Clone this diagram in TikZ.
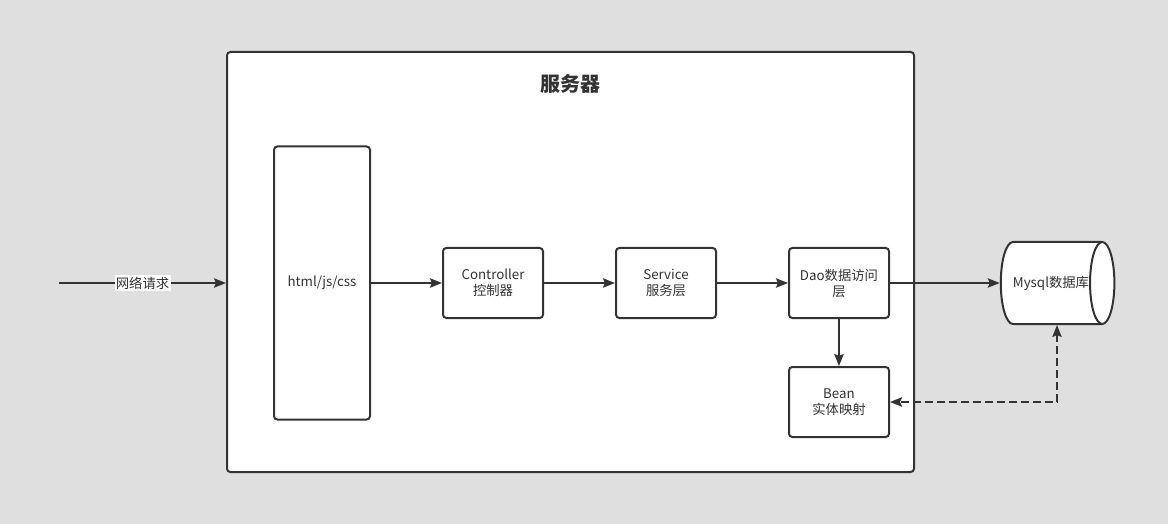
\documentclass[tikz,border=0pt]{standalone}
\usepackage{fontspec}
\setmainfont{Noto Sans CJK SC}
\usepackage{tikz}
\usetikzlibrary{shapes.geometric, arrows.meta, positioning}

\definecolor{bggray}{HTML}{DFDFDF}
\definecolor{ink}{HTML}{333333}

\begin{document}
\begin{tikzpicture}[
    x=0.75pt, y=-0.75pt,
    every node/.style={font=\fontsize{10}{12}\selectfont, text=ink, align=center},
    box/.style={draw=ink, line width=1.5pt, fill=white, rounded corners=2.5pt,
                minimum width=75pt, minimum height=52.5pt, inner sep=2pt},
    arr/.style={draw=ink, line width=1.5pt, -{Stealth[length=9pt,width=7pt,inset=1.5pt]}},
    dasharr/.style={draw=ink, line width=1.5pt, dash pattern=on 6pt off 3pt,
                {Stealth[length=9pt,width=7pt,inset=1.5pt]}-{Stealth[length=9pt,width=7pt,inset=1.5pt]}}
]

% Background
\fill[bggray] (0,0) rectangle (1168,524);
\useasboundingbox (0,0) rectangle (1168,524);

% Server frame
\node[box, minimum width=515.25pt, minimum height=315pt] (srv) at (570.5,262) {};
\node[font=\fontsize{15}{18}\selectfont\bfseries] (title) at (570,84) {服务器};

% Front end column
\node[box, minimum width=72pt, minimum height=204.75pt] (html) at (322,283) {html/js/css};

% Layers
\node[box] (ctrl) at (493,283) {Controller\\控制器};
\node[box, right=53.25pt of ctrl] (svc) {Service\\服务层};
\node[box, right=53.25pt of svc] (dao) {Dao数据访问\\层};
\node[box, below=35.25pt of dao] (bean) {Bean\\实体映射};

% Database
\node[draw=ink, line width=1.5pt, fill=white, cylinder, aspect=1.7,
      minimum width=61.5pt, minimum height=84pt, inner sep=0pt] (db) at (1051,283) {Mysql数据库};
\coordinate (dbfoot) at ([xshift=4.5pt]db.south);

% Request
\coordinate (start) at (59,283);
\draw[arr] (start) -- (srv.west |- start)
    node[midway, fill=white, inner sep=1pt] (req) {网络请求};

% Connections
\draw[arr] (html.east |- ctrl) -- (ctrl);
\draw[arr] (ctrl) -- (svc);
\draw[arr] (svc) -- (dao);
\draw[arr] (dao) -- (db);
\draw[arr] (dao) -- (bean);
\draw[dasharr] (dbfoot) |- (bean.east);

\end{tikzpicture}
\end{document}
